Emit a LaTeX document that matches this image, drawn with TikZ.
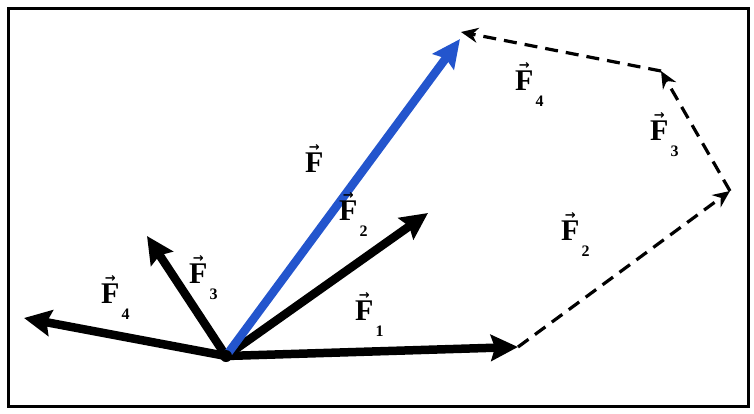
\documentclass[tikz,border=0pt]{standalone}
\usepackage{fontspec}
\setmainfont{Liberation Serif}
\newfontfamily\arrfont{DejaVu Sans}
\usetikzlibrary{arrows.meta}
\definecolor{fblue}{RGB}{35,85,205}
\newcommand{\arF}{\leavevmode\vbox{\offinterlineskip\halign{\hfil##\hfil\cr{\arrfont\bfseries\fontsize{13}{13}\selectfont →}\cr\noalign{\kern1pt}\textbf{F}\cr}}}
\newcommand{\vF}[1]{\arF\kern2pt\raisebox{-0.55em}{\fontsize{16}{16}\selectfont\textbf{#1}}}
\tikzset{
  force/.style={line width=8.5pt, -{Stealth[length=27pt,width=26pt,inset=4pt]}, shorten <=-2pt},
  result/.style={force, draw=fblue, -{Stealth[length=28pt,width=26pt,inset=4pt]}},
  comp/.style={line width=3.2pt, dash pattern=on 13pt off 8pt, -{Stealth[length=17pt,width=15pt]}},
  lbl/.style={font=\fontsize{30}{30}\selectfont, inner sep=0pt, anchor=base west}
}
\begin{document}
\begin{tikzpicture}[x=1pt,y=-1pt]
\useasboundingbox (0,0) rectangle (754,413);
\draw[line width=3pt] (8,8) rectangle (748,406);
% points
\coordinate (O) at (226,356);
\coordinate (A1) at (518,347);
\coordinate (A2) at (428,213);
\coordinate (A3) at (147,236);
\coordinate (A4) at (24,318);
\coordinate (B2) at (730,191);
\coordinate (B3) at (661,71);
\coordinate (B4) at (461,32);
\coordinate (R) at (460,39);
% dashed polygon
\draw[comp] (A1) -- (B2);
\draw[comp] (B2) -- (B3);
\draw[comp] (B3) -- (B4);
% forces
\draw[force] (O) -- (A1);
\draw[force] (O) -- (A2);
\draw[force] (O) -- (A3);
\draw[force] (O) -- (A4);
\draw[result] (O) -- (R);
\fill (O) circle (6pt);
% labels
\node[lbl] (lF) at (305,172) {\arF};
\node[lbl] (l2a) at (339,220) {\vF{2}};
\node[lbl] (l1) at (355,320) {\vF{1}};
\node[lbl] (l3) at (189,283) {\vF{3}};
\node[lbl] (l4) at (101,303) {\vF{4}};
\node[lbl] (l4b) at (515,90) {\vF{4}};
\node[lbl] (l3b) at (650,140) {\vF{3}};
\node[lbl] (l2b) at (561,240) {\vF{2}};
\end{tikzpicture}
\end{document}
